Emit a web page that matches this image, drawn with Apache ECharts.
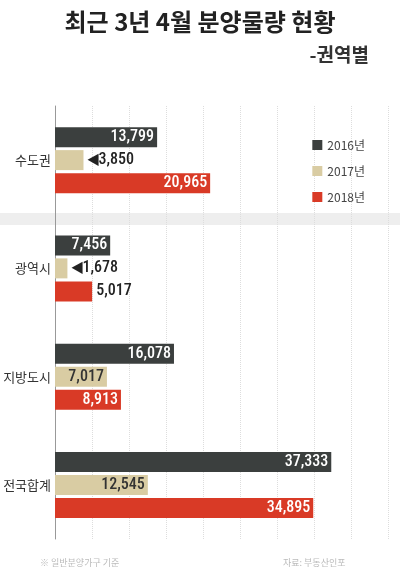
<!DOCTYPE html><html><head><meta charset="utf-8"><script src="https://cdn.jsdelivr.net/npm/echarts@6/dist/echarts.min.js"></script>
<style>body{margin:0}#c{width:400px;height:568px}</style></head><body><div id="c"></div><script>
const categories=['수도권','광역시','지방도시','전국합계'];
const years=['2016년','2017년','2018년'];
const v2016=[13799,7456,16078,37333];
const v2017=[3850,1678,7017,12545];
const v2018=[20965,5017,8913,34895];
const colors=['#3b3f3e','#d9cca3','#d93a26'];
const F='"Noto Sans CJK KR","Noto Sans",sans-serif';
function mk(vals,si){return vals.map(v=>{const out=v<6000;return {value:v,label:{show:true,position:out?'right':'insideRight',
 formatter:(out&&si===1?'◀':'')+v.toLocaleString('en-US'),color:out?'#222':(si===1?'#333':'#fff'),fontSize:16,fontWeight:500,fontFamily:'"Roboto Condensed","DejaVu Sans Condensed",Roboto,sans-serif',distance:out?4:3}}});}
const c=echarts.init(document.getElementById('c'));
c.setOption({animation:false,backgroundColor:'#fff',
title:[{text:'최근 3년 4월 분양물량 현황',left:'center',top:5,textStyle:{fontSize:24,fontWeight:'bold',color:'#222',fontFamily:F}},
{text:'-권역별',right:26,top:40,textStyle:{fontSize:19,fontWeight:'bold',color:'#333',fontFamily:F}},
{text:'※ 일반분양가구 기준',left:35,top:553,textStyle:{fontSize:9,color:'#bbb',fontWeight:'normal',fontFamily:F}},
{text:'자료: 부동산인포',left:278,top:553,textStyle:{fontSize:9,color:'#bbb',fontWeight:'normal',fontFamily:F}}],
graphic:[{type:'rect',z:-1,shape:{x:0,y:213,width:400,height:12},style:{fill:'#eeeeee'}}],
legend:{orient:'vertical',right:30,top:134,itemWidth:10,itemHeight:10,itemGap:14,icon:'rect',textStyle:{fontSize:12,color:'#444',fontFamily:F}},
grid:{left:55,right:12,top:106,bottom:29},
xAxis:{type:'value',min:0,max:45000,interval:5000,axisLabel:{show:false},splitLine:{lineStyle:{type:'dotted',color:'#ddd'}}},
yAxis:{type:'category',inverse:true,data:categories,axisTick:{show:false},axisLine:{lineStyle:{color:'#999'}},axisLabel:{fontSize:13,color:'#333',margin:4,fontFamily:F}},
series:[v2016,v2017,v2018].map((d,i)=>({type:'bar',name:years[i],data:mk(d,i),barWidth:20,barGap:'15%',itemStyle:{color:colors[i]}}))});
</script></body></html>
